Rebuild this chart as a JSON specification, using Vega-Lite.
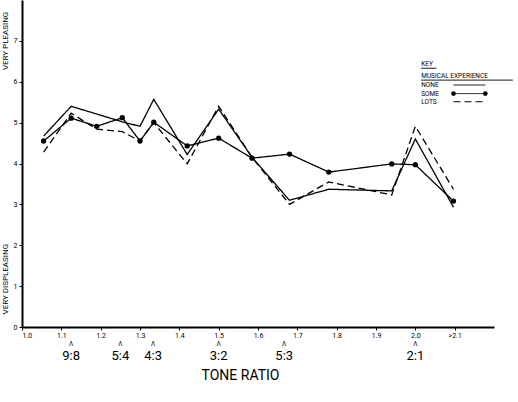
{
  "$schema": "https://vega.github.io/schema/vega-lite/v6.json",
  "width": 472,
  "height": 327,
  "autosize": {"type": "none"},
  "padding": {"left": 22, "top": 0, "right": 24, "bottom": 75},
  "background": "white",
  "config": {"view": {"stroke": null}, "font": "Roboto"},
  "datasets": {
    "series": [
      {"r": 1.055, "s": "NONE", "v": 4.67}, {"r": 1.125, "s": "NONE", "v": 5.40}, {"r": 1.19, "s": "NONE", "v": 5.21}, {"r": 1.255, "s": "NONE", "v": 5.02}, {"r": 1.3, "s": "NONE", "v": 4.91}, {"r": 1.335, "s": "NONE", "v": 5.57}, {"r": 1.42, "s": "NONE", "v": 4.22}, {"r": 1.5, "s": "NONE", "v": 5.33}, {"r": 1.585, "s": "NONE", "v": 4.15}, {"r": 1.68, "s": "NONE", "v": 3.10}, {"r": 1.78, "s": "NONE", "v": 3.37}, {"r": 1.94, "s": "NONE", "v": 3.33}, {"r": 2.0, "s": "NONE", "v": 4.60}, {"r": 2.097, "s": "NONE", "v": 2.93},
      {"r": 1.055, "s": "SOME", "v": 4.55}, {"r": 1.125, "s": "SOME", "v": 5.11}, {"r": 1.19, "s": "SOME", "v": 4.91}, {"r": 1.255, "s": "SOME", "v": 5.12}, {"r": 1.3, "s": "SOME", "v": 4.55}, {"r": 1.335, "s": "SOME", "v": 5.01}, {"r": 1.42, "s": "SOME", "v": 4.43}, {"r": 1.5, "s": "SOME", "v": 4.62}, {"r": 1.585, "s": "SOME", "v": 4.13}, {"r": 1.68, "s": "SOME", "v": 4.23}, {"r": 1.78, "s": "SOME", "v": 3.79}, {"r": 1.94, "s": "SOME", "v": 3.99}, {"r": 2.0, "s": "SOME", "v": 3.97}, {"r": 2.097, "s": "SOME", "v": 3.08},
      {"r": 1.055, "s": "LOTS", "v": 4.28}, {"r": 1.125, "s": "LOTS", "v": 5.23}, {"r": 1.19, "s": "LOTS", "v": 4.84}, {"r": 1.255, "s": "LOTS", "v": 4.78}, {"r": 1.3, "s": "LOTS", "v": 4.55}, {"r": 1.335, "s": "LOTS", "v": 5.00}, {"r": 1.42, "s": "LOTS", "v": 3.99}, {"r": 1.5, "s": "LOTS", "v": 5.40}, {"r": 1.585, "s": "LOTS", "v": 4.15}, {"r": 1.68, "s": "LOTS", "v": 3.00}, {"r": 1.78, "s": "LOTS", "v": 3.55}, {"r": 1.94, "s": "LOTS", "v": 3.23}, {"r": 2.0, "s": "LOTS", "v": 4.91}, {"r": 2.097, "s": "LOTS", "v": 3.37}
    ],
    "ratios": [
      {"label": "9:8", "r": 1.125}, {"label": "5:4", "r": 1.25}, {"label": "4:3", "r": 1.3333}, {"label": "3:2", "r": 1.5}, {"label": "5:3", "r": 1.6667}, {"label": "2:1", "r": 2.0}
    ],
    "keytext": [
      {"t": "KEY", "x": 2.015, "y": 6.43},
      {"t": "MUSICAL EXPERIENCE", "x": 2.015, "y": 6.14},
      {"t": "NONE", "x": 2.015, "y": 5.92},
      {"t": "SOME", "x": 2.015, "y": 5.71},
      {"t": "LOTS", "x": 2.015, "y": 5.51}
    ],
    "keylines": [
      {"s": "UL1", "x": 2.015, "x2": 2.054, "y": 6.33},
      {"s": "UL2", "x": 2.015, "x2": 2.248, "y": 6.04},
      {"s": "NONE", "x": 2.097, "x2": 2.178, "y": 5.92},
      {"s": "SOME", "x": 2.097, "x2": 2.178, "y": 5.71},
      {"s": "LOTS", "x": 2.097, "x2": 2.178, "y": 5.51}
    ],
    "keydots": [
      {"x": 2.097, "y": 5.71}, {"x": 2.178, "y": 5.71}
    ],
    "sidetitles": [
      {"t": "VERY PLEASING", "y": 7.0},
      {"t": "VERY DISPLEASING", "y": 1.17}
    ]
  },
  "layer": [
    {
      "data": {"name": "series"},
      "mark": {"type": "line", "color": "black", "strokeWidth": 1.3},
      "encoding": {
        "x": {
          "field": "r", "type": "quantitative",
          "scale": {"domain": [1.0, 2.2], "nice": false, "zero": false},
          "axis": {
            "values": [1.0, 1.1, 1.2, 1.3, 1.4, 1.5, 1.6, 1.7, 1.8, 1.9, 2.0, 2.1],
            "labelExpr": "datum.value > 2.05 ? '>2.1' : format(datum.value, '.1f')",
            "labelFontSize": 7, "labelColor": "black", "labelPadding": 1,
            "tickSize": 3, "tickColor": "black", "tickWidth": 1,
            "domainColor": "black", "domainWidth": 2, "grid": false,
            "title": "TONE   RATIO", "titleFontSize": 14, "titleFontWeight": "normal",
            "titleColor": "black", "titleX": 218, "titleY": 48, "titleBaseline": "middle"
          }
        },
        "y": {
          "field": "v", "type": "quantitative",
          "scale": {"domain": [0, 8], "nice": false},
          "axis": {
            "values": [0, 1, 2, 3, 4, 5, 6, 7],
            "labelFontSize": 7, "labelColor": "black", "labelPadding": 2,
            "tickSize": 3, "tickColor": "black",
            "domainColor": "black", "domainWidth": 2, "grid": false, "title": null
          }
        },
        "detail": {"field": "s"},
        "strokeDash": {
          "field": "s", "type": "nominal",
          "scale": {"domain": ["NONE", "SOME", "LOTS"], "range": [[1, 0], [1, 0], [7, 4]]},
          "legend": null
        }
      }
    },
    {
      "data": {"name": "series"},
      "transform": [{"filter": "datum.s === 'SOME'"}],
      "mark": {"type": "point", "filled": true, "color": "black", "size": 28, "opacity": 1},
      "encoding": {
        "x": {"field": "r", "type": "quantitative"},
        "y": {"field": "v", "type": "quantitative"}
      }
    },
    {
      "data": {"name": "ratios"},
      "mark": {"type": "text", "fontSize": 13, "color": "black", "baseline": "alphabetic"},
      "encoding": {
        "x": {"field": "r", "type": "quantitative"},
        "y": {"datum": -0.81},
        "text": {"field": "label"}
      }
    },
    {
      "data": {"name": "ratios"},
      "mark": {"type": "text", "fontSize": 6.5, "color": "black", "baseline": "bottom", "text": "Λ"},
      "encoding": {
        "x": {"field": "r", "type": "quantitative"},
        "y": {"datum": -0.49}
      }
    },
    {
      "data": {"name": "sidetitles"},
      "mark": {"type": "text", "fontSize": 8, "angle": 270, "color": "black", "baseline": "middle", "align": "center"},
      "encoding": {
        "x": {"datum": 0.959},
        "y": {"field": "y", "type": "quantitative"},
        "text": {"field": "t"}
      }
    },
    {
      "data": {"name": "keytext"},
      "mark": {"type": "text", "fontSize": 6.5, "color": "black", "align": "left", "baseline": "middle"},
      "encoding": {
        "x": {"field": "x", "type": "quantitative"},
        "y": {"field": "y", "type": "quantitative"},
        "text": {"field": "t"}
      }
    },
    {
      "data": {"name": "keylines"},
      "mark": {"type": "rule", "color": "black", "strokeWidth": 1},
      "encoding": {
        "x": {"field": "x", "type": "quantitative"},
        "x2": {"field": "x2"},
        "y": {"field": "y", "type": "quantitative"},
        "strokeDash": {
          "field": "s", "type": "nominal",
          "scale": {"domain": ["UL1", "UL2", "NONE", "SOME", "LOTS"], "range": [[1, 0], [1, 0], [1, 0], [1, 0], [7, 4]]},
          "legend": null
        }
      }
    },
    {
      "data": {"name": "keydots"},
      "mark": {"type": "point", "filled": true, "color": "black", "size": 22, "opacity": 1},
      "encoding": {
        "x": {"field": "x", "type": "quantitative"},
        "y": {"field": "y", "type": "quantitative"}
      }
    }
  ]
}
